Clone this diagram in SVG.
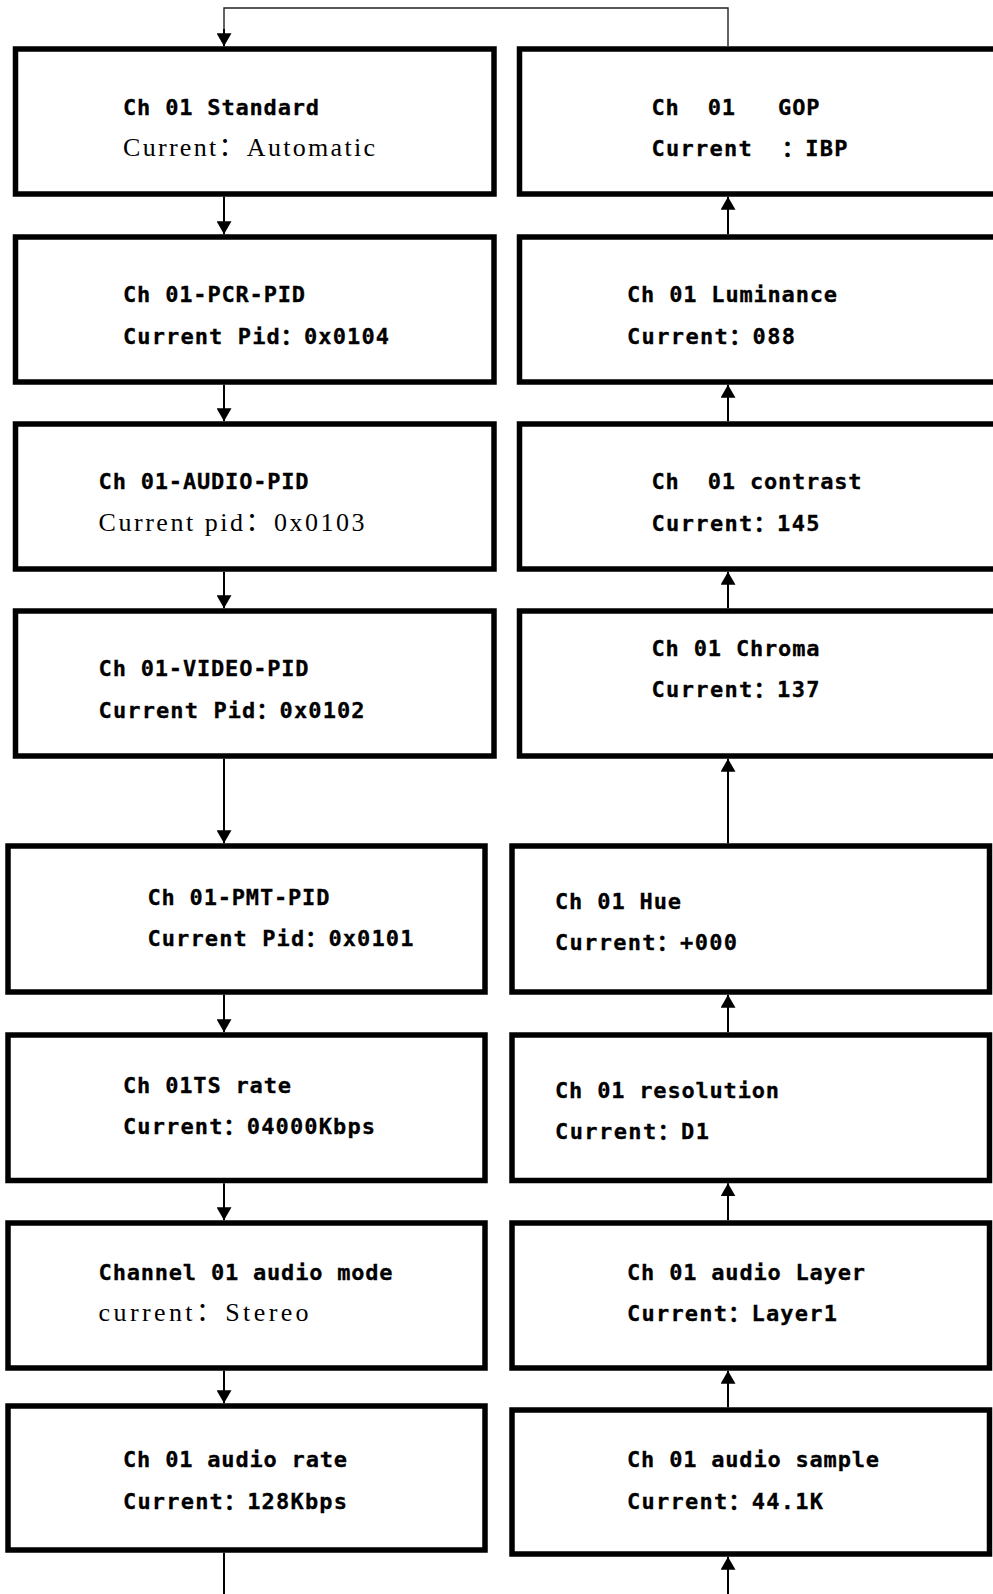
<svg xmlns="http://www.w3.org/2000/svg" width="993" height="1594" viewBox="0 0 993 1594">
<style>
.box{fill:#fff;stroke:#000;stroke-width:5.5}
.b{font-family:"DejaVu Sans Mono","Noto Sans CJK SC",monospace;font-weight:bold;font-size:22px;fill:#000;stroke:#000;stroke-width:0.3}
.s{font-family:"Liberation Serif","Noto Sans CJK SC",serif;font-size:26px;fill:#000}
.c{fill:none;stroke:#000;stroke-width:2}
.thin{fill:none;stroke:#222;stroke-width:1.4}
</style>
<defs>
<marker id="ah" markerUnits="userSpaceOnUse" viewBox="0 0 13 15" markerWidth="13" markerHeight="15" refX="13" refY="7.5" orient="auto">
<path d="M0,0 L13,7.5 L0,15 z" fill="#000"/>
</marker>
</defs>
<g id="connectors">
<path class="thin" d="M728,46 V8 H224 V30"/>
<path class="c" d="M224,29 V46.25" marker-end="url(#ah)"/>
<line class="c" x1="224" y1="196.75" x2="224" y2="234.25" marker-end="url(#ah)"/>
<line class="c" x1="224" y1="384.75" x2="224" y2="421.25" marker-end="url(#ah)"/>
<line class="c" x1="224" y1="571.75" x2="224" y2="608.25" marker-end="url(#ah)"/>
<line class="c" x1="224" y1="758.75" x2="224" y2="843.25" marker-end="url(#ah)"/>
<line class="c" x1="224" y1="994.75" x2="224" y2="1032.25" marker-end="url(#ah)"/>
<line class="c" x1="224" y1="1183.25" x2="224" y2="1220.25" marker-end="url(#ah)"/>
<line class="c" x1="224" y1="1370.75" x2="224" y2="1403.25" marker-end="url(#ah)"/>
<line class="c" x1="224" y1="1552.75" x2="224" y2="1594"/>
<line class="c" x1="728" y1="1594" x2="728" y2="1556.75" marker-end="url(#ah)"/>
<line class="c" x1="728" y1="1407.25" x2="728" y2="1370.75" marker-end="url(#ah)"/>
<line class="c" x1="728" y1="1220.25" x2="728" y2="1183.25" marker-end="url(#ah)"/>
<line class="c" x1="728" y1="1032.25" x2="728" y2="994.75" marker-end="url(#ah)"/>
<line class="c" x1="728" y1="843.25" x2="728" y2="758.75" marker-end="url(#ah)"/>
<line class="c" x1="728" y1="608.25" x2="728" y2="571.75" marker-end="url(#ah)"/>
<line class="c" x1="728" y1="421.25" x2="728" y2="384.75" marker-end="url(#ah)"/>
<line class="c" x1="728" y1="234.25" x2="728" y2="196.75" marker-end="url(#ah)"/>
</g>
<g id="n-standard">
<rect class="box" x="15.5" y="49" width="478.5" height="145"/>
<text class="b" x="123" y="114.5" textLength="196" lengthAdjust="spacing">Ch 01 Standard</text>
<text class="s" x="123" y="155.5" textLength="252" lengthAdjust="spacing">Current：Automatic</text>
</g>
<g id="n-pcr">
<rect class="box" x="15.5" y="237" width="478.5" height="145"/>
<text class="b" x="123" y="302" textLength="182" lengthAdjust="spacing">Ch 01-PCR-PID</text>
<text class="b" x="123" y="343.5" textLength="266" lengthAdjust="spacing">Current Pid：0x0104</text>
</g>
<g id="n-audiopid">
<rect class="box" x="15.5" y="424" width="478.5" height="145"/>
<text class="b" x="98.6" y="489" textLength="210" lengthAdjust="spacing">Ch 01-AUDIO-PID</text>
<text class="s" x="98.6" y="530.5" textLength="266" lengthAdjust="spacing">Current pid：0x0103</text>
</g>
<g id="n-videopid">
<rect class="box" x="15.5" y="611" width="478.5" height="145"/>
<text class="b" x="98.6" y="676" textLength="210" lengthAdjust="spacing">Ch 01-VIDEO-PID</text>
<text class="b" x="98.6" y="717.5" textLength="266" lengthAdjust="spacing">Current Pid：0x0102</text>
</g>
<g id="n-pmt">
<rect class="box" x="8" y="846" width="477" height="146"/>
<text class="b" x="147.4" y="905" textLength="182" lengthAdjust="spacing">Ch 01-PMT-PID</text>
<text class="b" x="147.4" y="946" textLength="266" lengthAdjust="spacing">Current Pid：0x0101</text>
</g>
<g id="n-tsrate">
<rect class="box" x="8" y="1035" width="477" height="145.5"/>
<text class="b" x="123" y="1092.5" textLength="168" lengthAdjust="spacing">Ch 01TS rate</text>
<text class="b" x="123" y="1134" textLength="252" lengthAdjust="spacing">Current：04000Kbps</text>
</g>
<g id="n-audiomode">
<rect class="box" x="8" y="1223" width="477" height="145"/>
<text class="b" x="98.6" y="1279.5" textLength="294" lengthAdjust="spacing">Channel 01 audio mode</text>
<text class="s" x="98.6" y="1321" textLength="210" lengthAdjust="spacing">current：Stereo</text>
</g>
<g id="n-audiorate">
<rect class="box" x="8" y="1406" width="477" height="144"/>
<text class="b" x="123" y="1467" textLength="224" lengthAdjust="spacing">Ch 01 audio rate</text>
<text class="b" x="123" y="1508.5" textLength="224" lengthAdjust="spacing">Current：128Kbps</text>
</g>
<g id="n-gop">
<rect class="box" x="519.5" y="49" width="490" height="145"/>
<text class="b" x="651.5" y="114.5" textLength="168" lengthAdjust="spacing" xml:space="preserve">Ch  01   GOP</text>
<text class="b" x="651.5" y="155.5" textLength="196" lengthAdjust="spacing" xml:space="preserve">Current  ：IBP</text>
</g>
<g id="n-luminance">
<rect class="box" x="519.5" y="237" width="490" height="145"/>
<text class="b" x="627" y="302" textLength="210" lengthAdjust="spacing">Ch 01 Luminance</text>
<text class="b" x="627" y="343.5" textLength="168" lengthAdjust="spacing">Current：088</text>
</g>
<g id="n-contrast">
<rect class="box" x="519.5" y="424" width="490" height="145"/>
<text class="b" x="651.5" y="489" textLength="210" lengthAdjust="spacing" xml:space="preserve">Ch  01 contrast</text>
<text class="b" x="651.5" y="530.5" textLength="168" lengthAdjust="spacing">Current：145</text>
</g>
<g id="n-chroma">
<rect class="box" x="519.5" y="611" width="490" height="145"/>
<text class="b" x="651.5" y="656" textLength="168" lengthAdjust="spacing">Ch 01 Chroma</text>
<text class="b" x="651.5" y="697" textLength="168" lengthAdjust="spacing">Current：137</text>
</g>
<g id="n-hue">
<rect class="box" x="512" y="846" width="477.5" height="146"/>
<text class="b" x="555" y="908.5" textLength="126" lengthAdjust="spacing">Ch 01 Hue</text>
<text class="b" x="555" y="950" textLength="182" lengthAdjust="spacing">Current：+000</text>
</g>
<g id="n-resolution">
<rect class="box" x="512" y="1035" width="477.5" height="145.5"/>
<text class="b" x="555" y="1097.5" textLength="224" lengthAdjust="spacing">Ch 01 resolution</text>
<text class="b" x="555" y="1139" textLength="154" lengthAdjust="spacing">Current：D1</text>
</g>
<g id="n-audiolayer">
<rect class="box" x="512" y="1223" width="477.5" height="145"/>
<text class="b" x="627" y="1279.5" textLength="238" lengthAdjust="spacing">Ch 01 audio Layer</text>
<text class="b" x="627" y="1321" textLength="210" lengthAdjust="spacing">Current：Layer1</text>
</g>
<g id="n-audiosample">
<rect class="box" x="512" y="1410" width="477.5" height="144"/>
<text class="b" x="627" y="1467" textLength="252" lengthAdjust="spacing">Ch 01 audio sample</text>
<text class="b" x="627" y="1508.5" textLength="196" lengthAdjust="spacing">Current：44.1K</text>
</g>
</svg>
